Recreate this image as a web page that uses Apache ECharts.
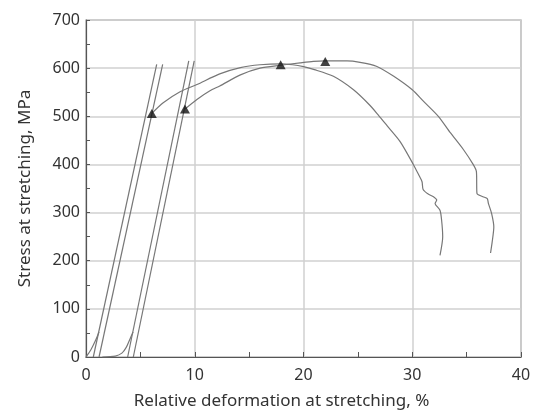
<!DOCTYPE html>
<html>
<head>
<meta charset="utf-8">
<script src="https://cdn.jsdelivr.net/npm/echarts@6/dist/echarts.min.js"></script>
<style>
html,body{margin:0;padding:0;background:#fff;}
#chart{width:536px;height:411px;}
</style>
</head>
<body>
<div id="chart"></div>
<script>
// Axis names
const xAxisName = 'Relative deformation at stretching, %';
const yAxisName = 'Stress at stretching, MPa';

// Sample 1: initial toe, elastic loading/unloading lines, plastic curve
const sample1Toe = [[0,0],[0.45,15],[0.85,33],[1.2,52]];
const sample1LineA = [[0.67,0],[6.5,608]];
const sample1LineB = [[1.2,0],[7.05,608]];
const sample1Plastic = [[6.05,506],[7.1,528],[8.65,551],[10.2,566],[12.3,588],[14.2,601],[16.0,607],[17.9,609],[19.0,607],[20.0,603],[21.0,597],[22.75,583],[24.6,555],[26.1,523],[26.9,502],[27.7,480],[28.9,447],[30.1,400],[30.6,378],[30.9,364],[31.0,348],[31.5,338],[31.95,333],[32.25,326],[32.1,319],[32.55,305],[32.7,284],[32.8,250],[32.55,211]];

// Sample 2
const sample2Toe = [[1.5,0],[2.7,2],[3.3,8],[3.7,20],[4.0,35],[4.33,52]];
const sample2LineC = [[3.83,0],[9.45,615]];
const sample2LineD = [[4.35,0],[9.95,615]];
const sample2Plastic = [[9.1,515],[10.2,535],[11.4,553],[12.3,563],[14.2,586],[16.0,600],[17.9,606],[19.7,611],[20.9,614],[22.0,615],[24.0,615],[25.2,612],[26.7,604],[28.3,583],[30.0,555],[31.0,532],[32.4,500],[33.5,466],[34.7,431],[35.6,400],[35.9,385],[35.95,340],[36.5,333],[36.9,329],[37.0,319],[37.3,298],[37.5,270],[37.35,239],[37.2,216]];

// Marked points (triangles)
const markers = [[6.05,506],[9.1,515],[17.9,607],[22.0,614]];

const chart = echarts.init(document.getElementById('chart'));
const lineStyle = {color:'#777', width:1.2};
function lineSeries(data, smooth){
  return {type:'line', data:data, showSymbol:false, symbol:'none', smooth:smooth||false, lineStyle:lineStyle, silent:true, animation:false};
}
const font = 'Noto Sans';
chart.setOption({
  animation:false,
  grid:{left:86, right:15, top:20, bottom:54, containLabel:false, outerBoundsMode:'none', show:true, borderColor:'#8a8a8a', borderWidth:1.2},
  xAxis:{
    type:'value', min:0, max:40, interval:10,
    name:xAxisName, nameLocation:'middle', nameGap:36,
    nameTextStyle:{fontFamily:font, fontSize:17, color:'#333', padding:[0,44,0,0]},
    axisLine:{lineStyle:{color:'#555', width:1.2}},
    axisTick:{show:true, inside:true, length:5, lineStyle:{color:'#555'}},
    minorTick:{show:true, splitNumber:2, length:5, lineStyle:{color:'#555'}},
    axisLabel:{fontFamily:font, fontSize:16, color:'#333', margin:10},
    splitLine:{show:true, lineStyle:{color:'#d0d0d0', width:1.5}}
  },
  yAxis:{
    type:'value', min:0, max:700, interval:100,
    name:yAxisName, nameLocation:'middle', nameGap:52,
    nameTextStyle:{fontFamily:font, fontSize:17, color:'#333'},
    axisLine:{show:true, lineStyle:{color:'#555', width:1.2}},
    axisTick:{show:true, inside:true, length:4, lineStyle:{color:'#555'}},
    minorTick:{show:true, splitNumber:2, length:4, lineStyle:{color:'#555'}},
    axisLabel:{fontFamily:font, fontSize:16, color:'#333', margin:6},
    splitLine:{show:true, lineStyle:{color:'#d0d0d0', width:1.5}}
  },
  series:[
    lineSeries(sample1Toe, 0.3),
    lineSeries(sample1LineA),
    lineSeries(sample1LineB),
    lineSeries(sample1Plastic, 0.25),
    lineSeries(sample2Toe, 0.3),
    lineSeries(sample2LineC),
    lineSeries(sample2LineD),
    lineSeries(sample2Plastic, 0.25),
    {type:'scatter', data:markers, symbol:'triangle', symbolSize:[10,9], itemStyle:{color:'#111'}, silent:true, z:10}
  ]
});
</script>
</body>
</html>
